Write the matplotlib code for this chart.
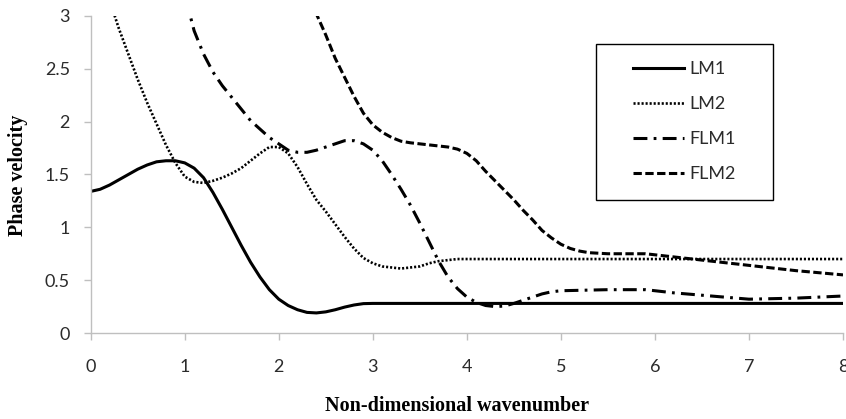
import matplotlib
matplotlib.use('Agg')
import matplotlib.pyplot as plt
from matplotlib.patches import Rectangle

plt.rcParams['lines.scale_dashes'] = False

# LM1 (solid)
lm1_x = [0.0, 0.1, 0.2, 0.3, 0.4, 0.5, 0.6, 0.7, 0.8, 0.9, 1.0, 1.1, 1.2, 1.3, 1.4,
         1.5, 1.6, 1.7, 1.8, 1.9, 2.0, 2.1, 2.2, 2.3, 2.4, 2.5, 2.6, 2.7, 2.8, 2.9,
         3.0, 4.0, 5.0, 6.0, 7.0, 8.0]
lm1_y = [1.34, 1.36, 1.40, 1.45, 1.50, 1.55, 1.59, 1.62, 1.63, 1.63, 1.61, 1.56, 1.47, 1.33, 1.17,
         1.00, 0.83, 0.67, 0.53, 0.41, 0.32, 0.26, 0.22, 0.195, 0.19, 0.20, 0.22, 0.245, 0.265, 0.278,
         0.28, 0.28, 0.28, 0.28, 0.28, 0.28]

# LM2 (dotted)
lm2_x = [0.2, 0.3, 0.4, 0.5, 0.6, 0.7, 0.8, 0.9, 1.0, 1.1, 1.2, 1.3, 1.4, 1.5, 1.6,
         1.7, 1.8, 1.9, 2.0, 2.1, 2.2, 2.3, 2.4, 2.5, 2.6, 2.7, 2.8, 2.9, 3.0, 3.1,
         3.2, 3.3, 3.4, 3.5, 3.6, 3.7, 3.8, 3.9, 4.0, 5.0, 6.0, 7.0, 8.0]
lm2_y = [3.15, 2.88, 2.64, 2.40, 2.18, 1.98, 1.78, 1.61, 1.48, 1.43, 1.42, 1.44, 1.47, 1.51, 1.56,
         1.63, 1.70, 1.76, 1.76, 1.70, 1.57, 1.41, 1.26, 1.15, 1.03, 0.91, 0.80, 0.71, 0.66, 0.63,
         0.62, 0.61, 0.62, 0.63, 0.66, 0.68, 0.69, 0.70, 0.70, 0.70, 0.70, 0.70, 0.70]

# FLM1 (dash-dot)
flm1_x = [1.0, 1.1, 1.2, 1.3, 1.4, 1.5, 1.6, 1.7, 1.8, 1.9, 2.0, 2.1, 2.2, 2.3, 2.4,
          2.5, 2.6, 2.7, 2.8, 2.9, 3.0, 3.1, 3.2, 3.3, 3.4, 3.5, 3.6, 3.7, 3.8, 3.9,
          4.0, 4.1, 4.2, 4.3, 4.4, 4.5, 4.6, 4.7, 4.8, 4.9, 5.0, 5.5, 5.9, 6.2, 6.6,
          7.0, 7.5, 8.0]
flm1_y = [3.2, 2.86, 2.64, 2.47, 2.34, 2.23, 2.12, 2.01, 1.93, 1.85, 1.79, 1.73, 1.71, 1.71, 1.73,
          1.76, 1.79, 1.82, 1.82, 1.79, 1.73, 1.63, 1.50, 1.36, 1.21, 1.04, 0.86, 0.68, 0.53, 0.42,
          0.34, 0.29, 0.26, 0.25, 0.255, 0.28, 0.31, 0.34, 0.37, 0.39, 0.40, 0.41, 0.41, 0.38, 0.35,
          0.32, 0.33, 0.35]

# FLM2 (dashed)
flm2_x = [2.35, 2.4, 2.5, 2.6, 2.7, 2.8, 2.9, 3.0, 3.1, 3.2, 3.3, 3.4, 3.5, 3.6, 3.7,
          3.8, 3.9, 4.0, 4.1, 4.2, 4.3, 4.4, 4.5, 4.6, 4.7, 4.8, 4.9, 5.0, 5.1, 5.2,
          5.3, 5.5, 5.9, 6.2, 6.5, 6.8, 7.1, 7.5, 8.0]
flm2_y = [3.15, 3.02, 2.82, 2.60, 2.42, 2.24, 2.08, 1.97, 1.90, 1.85, 1.815, 1.80, 1.79, 1.78, 1.77,
          1.76, 1.74, 1.70, 1.63, 1.53, 1.44, 1.35, 1.26, 1.16, 1.07, 0.97, 0.90, 0.84, 0.80, 0.775,
          0.76, 0.75, 0.75, 0.72, 0.69, 0.66, 0.63, 0.59, 0.55]

x_ticks = [0, 1, 2, 3, 4, 5, 6, 7, 8]
y_ticks = [0, 0.5, 1, 1.5, 2, 2.5, 3]
y_tick_labels = ['0', '0.5', '1', '1.5', '2', '2.5', '3']

fig = plt.figure(figsize=(8.46, 4.19), dpi=100)
ax = fig.add_axes([90.7/846, 86/419, 752.3/846, 317/419])

ax.plot(lm1_x, lm1_y, color='black', lw=2.2, label='LM1', solid_joinstyle='round')
ax.plot(lm2_x, lm2_y, color='black', lw=1.9, linestyle=(0, (1.5, 1.4)), label='LM2')
ax.plot(flm1_x, flm1_y, color='black', lw=2.2, linestyle=(0, (10, 4.5, 2, 4.5)), label='FLM1')
ax.plot(flm2_x, flm2_y, color='black', lw=2.2, linestyle=(0, (6, 2.5)), label='FLM2')

ax.set_xlim(0, 8)
ax.set_ylim(0, 3)
ax.set_xticks(x_ticks)
ax.set_yticks(y_ticks)
ax.set_yticklabels(y_tick_labels)

for s in ['top', 'right']:
    ax.spines[s].set_visible(False)
for s in ['left', 'bottom']:
    ax.spines[s].set_color('#bfbfbf')
    ax.spines[s].set_linewidth(1.0)
ax.tick_params(axis='both', colors='#bfbfbf', length=5, width=1.0, labelcolor='#2b2b2b',
               labelsize=13)
ax.tick_params(axis='x', pad=14)
ax.tick_params(axis='y', pad=10)
for lbl in ax.get_xticklabels() + ax.get_yticklabels():
    lbl.set_fontfamily('Lato')

# legend with a plain black box
ax.add_patch(Rectangle((0.672, 0.4196), 0.2353, 0.492, transform=ax.transAxes,
                       fill=False, edgecolor='black', lw=1.0, clip_on=False, zorder=5))
leg = ax.legend(loc='center', bbox_to_anchor=(0.789, 0.666), frameon=False,
                prop={'family': 'Lato', 'size': 13}, handlelength=2.85,
                handletextpad=0.3, labelspacing=1.05, borderpad=0)
for t in leg.get_texts():
    t.set_color('#2b2b2b')

fig.text(18/846, 1 - 175/419, 'Phase velocity', rotation=90, ha='center', va='center',
         family='Liberation Serif', weight='bold', fontsize=14.5)
fig.text(457/846, 1 - 406/419, 'Non-dimensional wavenumber', ha='center', va='center',
         family='Liberation Serif', weight='bold', fontsize=14.5)

fig.savefig('out.png', dpi=100)
